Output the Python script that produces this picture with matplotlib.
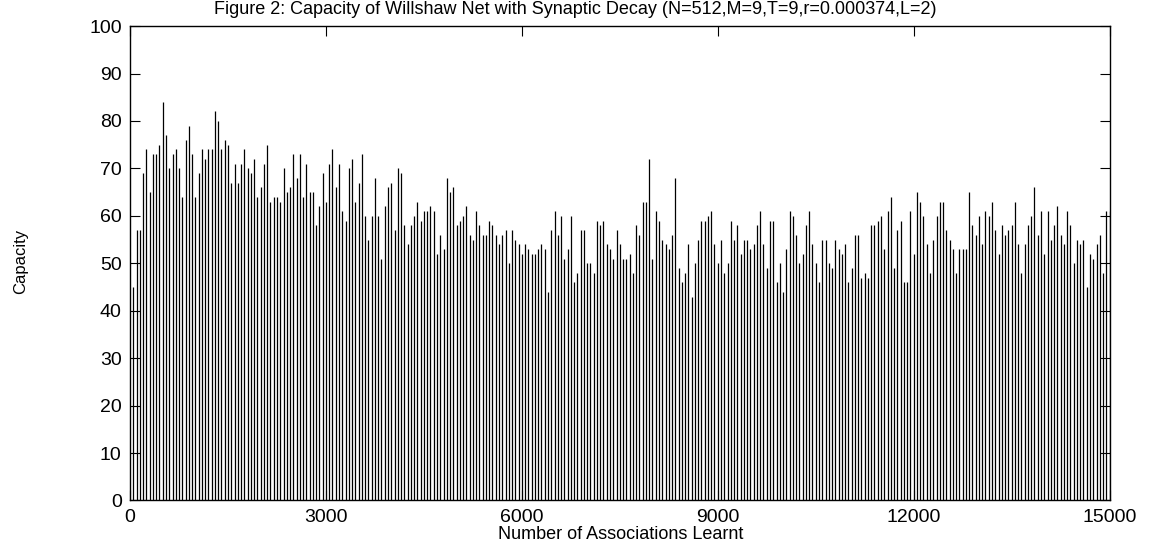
"""Willshaw net capacity under synaptic decay, drawn as gnuplot-style impulses."""

import matplotlib

matplotlib.use("Agg")
import matplotlib.pyplot as plt
import numpy as np

# ── Data: capacity sampled every 50 associations ─────────────────────────
STEP = 50
capacity = [
    45, 57, 57, 69, 74, 65, 73, 73, 75, 84, 77, 70, 73, 74, 70, 64, 76, 79, 73, 64,
    69, 74, 72, 74, 74, 82,
    80, 74, 76, 75, 67, 71, 67, 71, 74, 70, 69, 72, 64, 66, 71, 75, 63, 64, 64, 63,
    70, 65, 66, 73, 68, 73, 64,
    71, 65, 65, 58, 62, 69, 63, 71, 74, 66, 71, 61, 59, 70, 72, 63, 67, 73, 60, 55,
    60, 68, 60, 51, 62, 66, 67, 57,
    70, 69, 58, 54, 58, 60, 63, 59, 61, 61, 62, 61, 52, 56, 53, 68, 65, 66, 58, 59,
    60, 62, 56, 55, 61, 58, 56,
    56, 59, 58, 56, 54, 56, 57, 50, 57, 55, 54, 52, 54, 53, 52, 52, 53, 54, 53, 44,
    57, 61, 56, 60, 51, 53, 60, 46,
    48, 57, 57, 50, 50, 48, 59, 58, 59, 54, 53, 51, 57, 54, 51, 51, 52, 48, 58, 56,
    63, 63, 72, 51, 61, 59, 55,
    54, 53, 56, 68, 49, 46, 48, 54, 43, 50, 55, 59, 59, 60, 61, 54, 50, 55, 48, 50,
    59, 55, 58, 52, 55, 55, 53, 54,
    58, 61, 54, 49, 59, 59, 46, 50, 44, 53, 61, 60, 56, 50, 52, 58, 61, 54, 50, 46,
    55, 55, 50, 49, 55, 53, 52,
    54, 46, 49, 56, 56, 47, 48, 47, 58, 58, 59, 60, 53, 61, 64, 49, 57, 59, 46, 46,
    61, 52, 65, 63, 60, 54, 48, 55,
    60, 63, 63, 57, 55, 53, 48, 53, 53, 53, 65, 58, 56, 60, 54, 61, 60, 63, 57, 52,
    58, 56, 57, 58, 63, 54, 48,
    54, 58, 60, 66, 56, 61, 52, 61, 55, 58, 62, 56, 54, 61, 58, 50, 55, 54, 55, 45,
    52, 51, 54, 56, 48, 61, 61,
]
associations = STEP * np.arange(1, len(capacity) + 1)

x_ticks = [0, 3000, 6000, 9000, 12000, 15000]
y_ticks = list(range(0, 101, 10))

TITLE = "Figure 2: Capacity of Willshaw Net with Synaptic Decay (N=512,M=9,T=9,r=0.000374,L=2)"
FONT = ["Liberation Sans", "DejaVu Sans"]


def main() -> None:
    plt.rcParams["font.family"] = FONT
    fig = plt.figure(figsize=(11.51, 5.44), dpi=100)
    ax = fig.add_axes([0.113, 0.080, 0.851, 0.872])

    ax.vlines(associations, 0, capacity, colors="black", linewidth=0.9)

    ax.set_xlim(0, 15000)
    ax.set_ylim(0, 100)
    ax.set_xticks(x_ticks)
    ax.set_yticks(y_ticks)
    ax.tick_params(direction="in", length=7, width=0.8, top=True, right=True,
                   labelsize=14, pad=6)
    for sp in ax.spines.values():
        sp.set_linewidth(1.0)

    fig.text(0.5, 0.982, TITLE, ha="center", va="center", fontsize=13)
    fig.text(0.539, 0.017, "Number of Associations Learnt", ha="center", va="center",
             fontsize=13)
    fig.text(0.018, 0.52, "Capacity", ha="center", va="center", rotation=90,
             fontsize=12, family=["Liberation Sans Narrow", "Liberation Sans"])

    fig.savefig("out.png", dpi=100)
    plt.close(fig)


if __name__ == "__main__":
    main()
